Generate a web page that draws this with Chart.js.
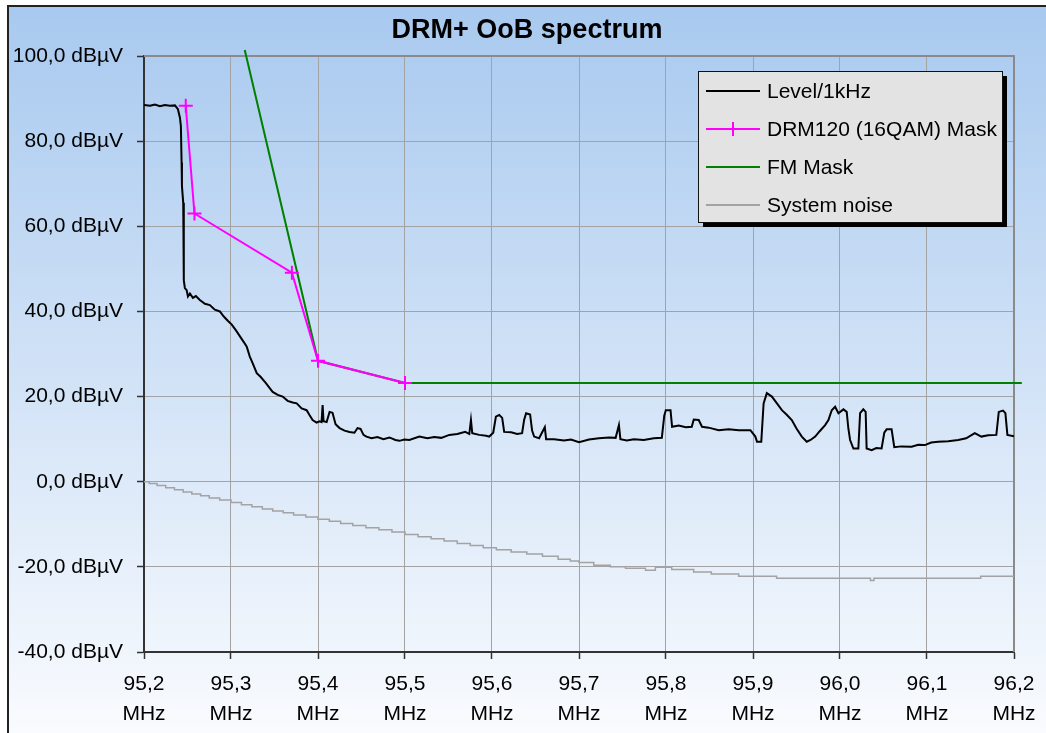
<!DOCTYPE html>
<html>
<head>
<meta charset="utf-8">
<script src="https://cdn.jsdelivr.net/npm/chart.js@4"></script>
<style>
  html, body { margin: 0; padding: 0; background: #fff; }
  #wrap { width: 1046px; height: 733px; }
</style>
</head>
<body>
<div id="wrap"><canvas id="spectrum" width="1046" height="733"></canvas></div>
<script>
// Achsen
const xTickValues = [95.2, 95.3, 95.4, 95.5, 95.6, 95.7, 95.8, 95.9, 96.0, 96.1, 96.2];
const yTickValues = [-40, -20, 0, 20, 40, 60, 80, 100];

// Level/1kHz (MHz / dBµV)
const levelFreq = [
  95.2000, 95.2069, 95.2126, 95.2183, 95.2241, 95.2298, 95.2356, 95.2390, 95.2413, 95.2424,
  95.2432, 95.2436, 95.2451, 95.2456, 95.2459, 95.2470, 95.2490, 95.2505, 95.2528, 95.2562,
  95.2596, 95.2642, 95.2700, 95.2757, 95.2814, 95.2872, 95.2917, 95.2963, 95.3009, 95.3055,
  95.3101, 95.3147, 95.3181, 95.3216, 95.3250, 95.3296, 95.3342, 95.3399, 95.3445, 95.3479,
  95.3537, 95.3594, 95.3651, 95.3709, 95.3755, 95.3812, 95.3869, 95.3904, 95.3938, 95.3984,
  95.4018, 95.4041, 95.4053, 95.4064, 95.4099, 95.4133, 95.4167, 95.4202, 95.4248, 95.4305,
  95.4362, 95.4419, 95.4454, 95.4489, 95.4523, 95.4557, 95.4615, 95.4683, 95.4752, 95.4821,
  95.4890, 95.4936, 95.4993, 95.5050, 95.5165, 95.5257, 95.5337, 95.5417, 95.5509, 95.5601,
  95.5693, 95.5739, 95.5758, 95.5773, 95.5853, 95.5933, 95.5968, 95.6014, 95.6045, 95.6083,
  95.6117, 95.6140, 95.6220, 95.6289, 95.6346, 95.6369, 95.6392, 95.6438, 95.6461, 95.6484,
  95.6541, 95.6607, 95.6622, 95.6713, 95.6828, 95.6908, 95.7000, 95.7115, 95.7229, 95.7344,
  95.7421, 95.7459, 95.7476, 95.7550, 95.7631, 95.7745, 95.7860, 95.7952, 95.7980, 95.7998,
  95.8052, 95.8070, 95.8147, 95.8227, 95.8296, 95.8319, 95.8376, 95.8414, 95.8491, 95.8606,
  95.8720, 95.8835, 95.8970, 95.9027, 95.9046, 95.9095, 95.9122, 95.9159, 95.9217, 95.9271,
  95.9332, 95.9385, 95.9446, 95.9500, 95.9561, 95.9618, 95.9661, 95.9715, 95.9764, 95.9829,
  95.9867, 95.9905, 95.9944, 95.9982, 96.0039, 96.0077, 96.0096, 96.0116, 96.0154, 96.0211,
  96.0231, 96.0268, 96.0295, 96.0306, 96.0364, 96.0417, 96.0478, 96.0509, 96.0536, 96.0593,
  96.0624, 96.0704, 96.0823, 96.0899, 96.0976, 96.1048, 96.1128, 96.1243, 96.1358, 96.1450,
  96.1549, 96.1625, 96.1702, 96.1797, 96.1825, 96.1874, 96.1901, 96.1924, 96.2000
];
const levelDb = [
  88.5, 88.3, 88.6, 88.2, 88.5, 88.3, 88.4, 87.5, 85.5, 83.5,
  75.0, 69.5, 65.5, 55.0, 47.3, 45.5, 45.0, 43.5, 44.2, 43.2,
  43.6, 42.7, 41.8, 41.5, 40.4, 40.0, 38.8, 37.8, 36.9, 35.6,
  34.2, 32.8, 31.7, 29.4, 27.8, 25.5, 24.6, 23.2, 22.0, 21.1,
  20.4, 20.0, 19.0, 18.6, 18.4, 17.2, 16.8, 15.6, 14.5, 13.9,
  14.2, 14.0, 18.0, 14.2, 14.0, 16.4, 16.2, 13.5, 12.6, 12.0,
  11.7, 11.5, 12.6, 12.4, 11.0, 10.6, 10.2, 10.5, 10.0, 10.4,
  9.8, 9.6, 9.9, 9.8, 10.6, 10.2, 10.5, 10.3, 11.0, 11.2,
  11.7, 11.2, 14.5, 11.4, 11.0, 10.8, 10.6, 11.5, 15.3, 15.7,
  15.0, 11.7, 11.6, 11.2, 11.4, 14.5, 16.1, 15.8, 12.0, 10.6,
  10.2, 12.8, 10.0, 10.0, 9.7, 9.9, 9.3, 9.9, 10.2, 10.4,
  10.3, 13.3, 10.0, 9.7, 10.0, 9.8, 10.2, 10.3, 15.5, 16.8,
  16.8, 12.9, 13.2, 12.8, 12.9, 14.6, 14.5, 12.9, 12.7, 12.1,
  12.3, 12.1, 12.1, 10.6, 9.4, 9.4, 18.4, 20.8, 20.0, 18.5,
  16.8, 15.8, 14.5, 12.5, 10.6, 9.4, 9.8, 10.6, 11.8, 13.3,
  14.5, 16.8, 17.6, 16.1, 17.0, 16.4, 12.5, 9.8, 7.8, 7.8,
  16.1, 17.0, 16.4, 7.8, 7.4, 7.9, 7.8, 11.5, 12.3, 12.3,
  8.1, 8.3, 8.2, 8.7, 8.6, 9.2, 9.4, 9.5, 9.8, 10.2,
  11.4, 10.6, 10.9, 11.0, 16.4, 16.7, 16.1, 11.0, 10.7
];

// DRM120 (16QAM) Mask
const drmFreq = [95.248, 95.258, 95.370, 95.400, 95.500];
const drmDb = [88.3, 63.0, 49.1, 28.4, 23.2];

// FM Mask
const fmFreq = [95.3158, 95.400, 95.500, 96.209];
const fmDb = [101.4, 28.4, 23.2, 23.2];

// System noise (Treppe)
const noiseFreq = [
  95.200, 95.206, 95.215, 95.225, 95.235, 95.245, 95.255, 95.265, 95.275, 95.287,
  95.300, 95.312, 95.324, 95.336, 95.348, 95.360, 95.372, 95.386, 95.400, 95.413,
  95.426, 95.440, 95.455, 95.470, 95.485, 95.500, 95.515, 95.530, 95.545, 95.560,
  95.575, 95.590, 95.605, 95.622, 95.640, 95.658, 95.676, 95.690, 95.700, 95.717,
  95.736, 95.7535, 95.7764, 95.7878, 95.8066, 95.8318, 95.8521, 95.8835, 95.9271, 96.035,
  96.039, 96.1617, 96.200
];
const noiseDb = [
  0.0, -0.4, -0.9, -1.4, -1.9, -2.4, -2.9, -3.3, -3.8, -4.3,
  -4.9, -5.4, -5.9, -6.4, -6.9, -7.3, -7.8, -8.3, -8.8, -9.3,
  -9.8, -10.3, -10.8, -11.3, -11.8, -12.4, -12.9, -13.4, -13.9, -14.5,
  -15.0, -15.5, -16.0, -16.5, -17.0, -17.5, -18.2, -18.6, -19.0, -19.6,
  -20.0, -20.3, -20.8, -20.1, -20.6, -21.2, -21.7, -22.2, -22.7, -23.2,
  -22.7, -22.2, -22.2
];

const chartTitle = 'DRM+ OoB spectrum';

function pts(xs, ys) {
  return xs.map((x, i) => ({ x: x, y: ys[i] }));
}

function comma(v, d) {
  return v.toFixed(d).replace('.', ',');
}

// Hintergrund mit Verlauf, Rahmen und Titel
const backgroundPlugin = {
  id: 'background',
  beforeDraw(chart) {
    const ctx = chart.ctx;
    ctx.save();
    ctx.fillStyle = '#fff';
    ctx.fillRect(0, 0, chart.width, chart.height);
    const g = ctx.createLinearGradient(0, 6, 0, chart.height);
    g.addColorStop(0, '#a8c9ef');
    g.addColorStop(1, '#f9fbfe');
    ctx.fillStyle = g;
    ctx.fillRect(8, 6, chart.width - 8, chart.height - 6);
    ctx.strokeStyle = '#222';
    ctx.lineWidth = 2;
    ctx.beginPath();
    ctx.moveTo(8, chart.height);
    ctx.lineTo(8, 6);
    ctx.lineTo(chart.width, 6);
    ctx.stroke();
    // Titel über dem ganzen Rahmen zentriert
    ctx.fillStyle = '#000';
    ctx.font = 'bold 27px Arial, "Liberation Sans", sans-serif';
    ctx.textAlign = 'center';
    ctx.textBaseline = 'middle';
    ctx.fillText(chartTitle, (8 + chart.width) / 2, 31);
    ctx.restore();
  },
  beforeDatasetsDraw(chart) {
    const a = chart.chartArea;
    const ctx = chart.ctx;
    ctx.save();
    ctx.strokeStyle = '#8a8a8a';
    ctx.lineWidth = 2;
    ctx.beginPath();
    ctx.moveTo(a.left, a.top);
    ctx.lineTo(a.right, a.top);
    ctx.lineTo(a.right, a.bottom);
    ctx.stroke();
    ctx.restore();
  }
};

// Legende im Diagramm mit Schatten
const boxLegendPlugin = {
  id: 'boxLegend',
  afterDraw(chart) {
    const ctx = chart.ctx;
    const x = 698, y = 71, w = 304, h = 151;
    ctx.save();
    ctx.fillStyle = '#000';
    ctx.fillRect(x + 5, y + 5, w, h);
    ctx.fillStyle = '#e3e3e3';
    ctx.fillRect(x, y, w, h);
    ctx.strokeStyle = '#111';
    ctx.lineWidth = 1;
    ctx.strokeRect(x + 0.5, y + 0.5, w, h);
    ctx.font = '21px Arial, "Liberation Sans", sans-serif';
    ctx.textBaseline = 'middle';
    ctx.textAlign = 'left';
    chart.data.datasets.forEach((ds, i) => {
      const ry = y + 20 + i * 38;
      ctx.strokeStyle = ds.borderColor;
      ctx.lineWidth = 2;
      ctx.beginPath();
      ctx.moveTo(x + 8, ry);
      ctx.lineTo(x + 62, ry);
      ctx.stroke();
      if (ds.pointStyle === 'cross') {
        ctx.beginPath();
        ctx.moveTo(x + 35, ry - 7);
        ctx.lineTo(x + 35, ry + 7);
        ctx.stroke();
      }
      ctx.fillStyle = '#000';
      ctx.fillText(ds.label, x + 69, ry + 1);
    });
    ctx.restore();
  }
};

Chart.defaults.font.family = 'Arial, "Liberation Sans", sans-serif';
Chart.defaults.font.size = 21;
Chart.defaults.color = '#000';

new Chart(document.getElementById('spectrum').getContext('2d'), {
  type: 'line',
  data: {
    datasets: [
      {
        label: 'Level/1kHz',
        data: pts(levelFreq, levelDb),
        borderColor: '#000',
        borderWidth: 2,
        pointRadius: 0,
        tension: 0
      },
      {
        label: 'DRM120 (16QAM) Mask',
        data: pts(drmFreq, drmDb),
        borderColor: '#ff00ff',
        backgroundColor: '#ff00ff',
        borderWidth: 2,
        pointStyle: 'cross',
        pointRadius: 7,
        pointBorderWidth: 2,
        pointBorderColor: '#ff00ff',
        tension: 0,
        clip: false
      },
      {
        label: 'FM Mask',
        data: pts(fmFreq, fmDb),
        borderColor: '#008000',
        borderWidth: 2,
        pointRadius: 0,
        tension: 0,
        clip: false
      },
      {
        label: 'System noise',
        data: pts(noiseFreq, noiseDb),
        borderColor: '#a3a3a3',
        borderWidth: 1.5,
        pointRadius: 0,
        stepped: true
      }
    ]
  },
  options: {
    responsive: false,
    animation: false,
    layout: { padding: { left: 0, right: 32, top: 56, bottom: 0 } },
    plugins: {
      legend: { display: false },
      tooltip: { enabled: false },
      title: { display: false }
    },
    scales: {
      x: {
        type: 'linear',
        min: 95.2,
        max: 96.2,
        afterBuildTicks(scale) {
          scale.ticks = xTickValues.map(v => ({ value: v }));
        },
        afterFit(scale) {
          scale.height = 81;
        },
        ticks: {
          maxRotation: 0,
          autoSkip: false,
          padding: 10,
          font: { size: 21, lineHeight: 1.43 },
          callback: v => [comma(v, 1), 'MHz']
        },
        grid: { color: '#a3a3a3', lineWidth: 1, tickLength: 7, tickColor: '#333', tickWidth: 1.5 },
        border: { color: '#333', width: 2 }
      },
      y: {
        min: -40,
        max: 100,
        afterBuildTicks(scale) {
          scale.ticks = yTickValues.map(v => ({ value: v }));
        },
        afterFit(scale) {
          scale.width = 144;
        },
        ticks: {
          padding: 14,
          font: { size: 21 },
          callback: v => comma(v, 1) + ' dB\u00b5V'
        },
        grid: { color: '#a3a3a3', lineWidth: 1, tickLength: 7, tickColor: '#333', tickWidth: 1.5 },
        border: { color: '#333', width: 2 }
      }
    }
  },
  plugins: [backgroundPlugin, boxLegendPlugin]
});
</script>
</body>
</html>
